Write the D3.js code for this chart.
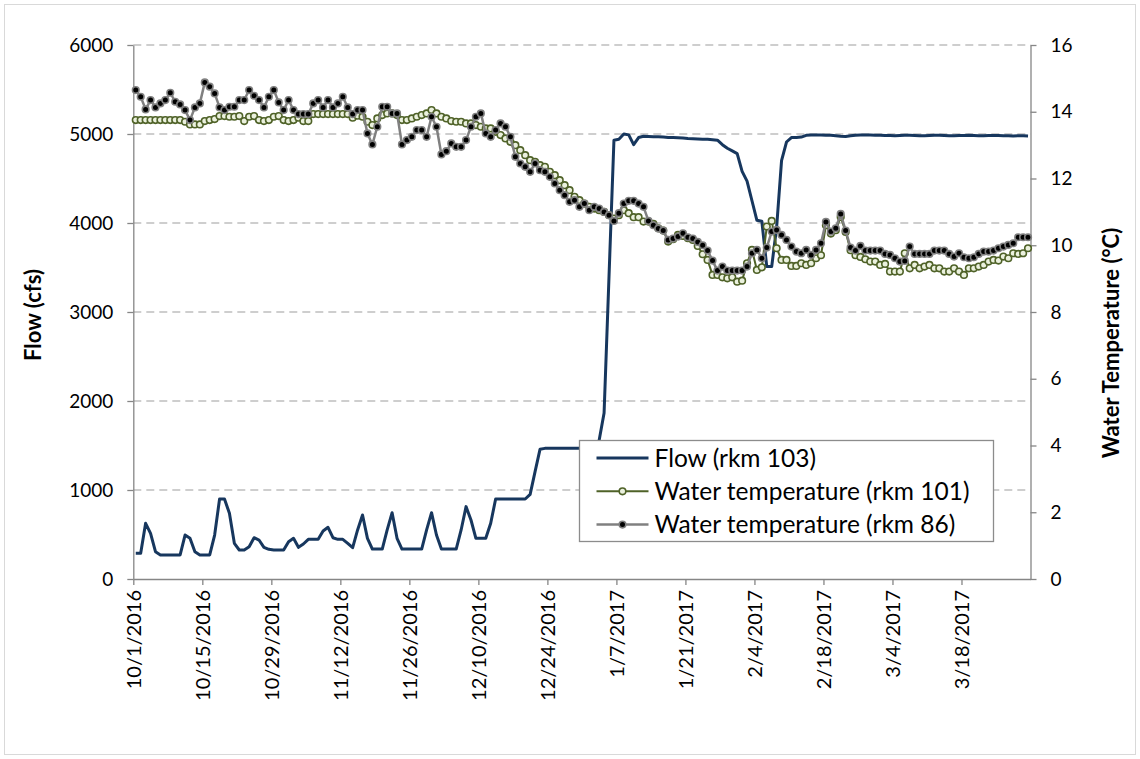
<!DOCTYPE html>
<html>
<head>
<meta charset="utf-8">
<script src="https://cdn.jsdelivr.net/npm/d3@7"></script>
<style>
  body { margin: 0; background: #fff; }
  svg { display: block; font-family: Lato, "Liberation Sans", sans-serif; }
</style>
</head>
<body>
<svg id="chart" width="1140" height="759"></svg>
<script>
// Daily series, one value per day starting 10/1/2016 (182 days through 3/31/2017)
const startDate = "10/1/2016";
const endDate = "4/1/2017";

const flowCfs = [
  289, 289, 626, 513, 307, 270, 270, 270, 270, 270,
  494, 457, 307, 270, 270, 270, 494, 899, 899, 738,
  401, 326, 326, 363, 464, 438, 356, 333, 326, 326,
  326, 419, 457, 356, 393, 446, 446, 446, 539, 581,
  464, 446, 446, 401, 352, 551, 719, 457, 337, 337,
  337, 551, 745, 457, 337, 337, 337, 337, 337, 551,
  745, 494, 337, 337, 337, 337, 551, 813, 663, 457,
  457, 457, 626, 899, 899, 899, 899, 899, 899, 899,
  951, 1206, 1457, 1468, 1468, 1468, 1468, 1468, 1468, 1468,
  1468, 1468, 1468, 1468, 1560, 1865, 3400, 4930, 4940, 5000,
  4990, 4880, 4960, 4975, 4972, 4970, 4968, 4965, 4962, 4960,
  4958, 4955, 4950, 4948, 4945, 4942, 4940, 4935, 4930, 4880,
  4840, 4810, 4780, 4580, 4470, 4250, 4030, 4020, 3510, 3510,
  3950, 4700, 4910, 4960, 4960, 4965, 4985, 4990, 4990, 4988,
  4985, 4985, 4980, 4975, 4972, 4980, 4985, 4988, 4990, 4988,
  4985, 4985, 4983, 4982, 4980, 4982, 4985, 4985, 4983, 4980,
  4980, 4982, 4985, 4985, 4983, 4980, 4980, 4982, 4983, 4985,
  4983, 4980, 4980, 4982, 4983, 4982, 4980, 4980, 4978, 4980,
  4980, 4978
];

const tempRkm101 = [
  13.75, 13.75, 13.75, 13.75, 13.75, 13.75, 13.75, 13.75, 13.75, 13.75,
  13.70, 13.62, 13.62, 13.62, 13.72, 13.75, 13.78, 13.87, 13.87, 13.85,
  13.85, 13.87, 13.72, 13.85, 13.87, 13.75, 13.72, 13.75, 13.85, 13.87,
  13.75, 13.72, 13.75, 13.82, 13.72, 13.72, 13.93, 13.93, 13.93, 13.93,
  13.93, 13.93, 13.93, 13.93, 13.82, 13.88, 13.85, 13.70, 13.60, 13.80,
  13.90, 13.95, 13.95, 13.90, 13.75, 13.75, 13.80, 13.85, 13.90, 13.95,
  14.05, 13.95, 13.85, 13.80, 13.72, 13.70, 13.70, 13.65, 13.65, 13.60,
  13.55, 13.50, 13.50, 13.40, 13.30, 13.20, 13.10, 13.00, 12.85, 12.70,
  12.55, 12.50, 12.40, 12.35, 12.20, 12.10, 11.95, 11.80, 11.65, 11.45,
  11.35, 11.25, 11.15, 11.10, 11.05, 11.00, 10.90, 10.80, 10.90, 11.05,
  10.96, 10.84, 10.84, 10.71, 10.71, 10.64, 10.51, 10.44, 10.11, 10.18,
  10.31, 10.28, 10.21, 10.16, 9.98, 9.73, 9.56, 9.11, 9.11, 9.04,
  9.01, 9.04, 8.91, 8.94, 9.46, 9.86, 9.26, 9.34, 10.56, 10.73,
  9.91, 9.56, 9.56, 9.38, 9.38, 9.46, 9.41, 9.46, 9.61, 9.70,
  10.60, 10.35, 10.45, 10.85, 10.40, 9.85, 9.70, 9.65, 9.58, 9.51,
  9.51, 9.41, 9.44, 9.21, 9.21, 9.21, 9.76, 9.31, 9.41, 9.31,
  9.36, 9.41, 9.31, 9.31, 9.21, 9.21, 9.31, 9.21, 9.11, 9.31,
  9.31, 9.36, 9.41, 9.51, 9.56, 9.54, 9.66, 9.61, 9.76, 9.74,
  9.76, 9.91
];

const tempRkm86 = [
  14.65, 14.45, 14.07, 14.35, 14.13, 14.25, 14.35, 14.57, 14.30, 14.22,
  14.05, 13.75, 14.13, 14.25, 14.88, 14.75, 14.55, 14.13, 14.05, 14.15,
  14.15, 14.35, 14.35, 14.65, 14.48, 14.35, 14.13, 14.45, 14.65, 14.28,
  14.05, 14.35, 14.05, 13.93, 13.93, 13.93, 14.25, 14.35, 14.13, 14.35,
  14.13, 14.25, 14.45, 14.13, 13.93, 14.05, 14.05, 13.35, 13.02, 13.55,
  14.15, 14.15, 13.95, 13.95, 13.02, 13.15, 13.25, 13.45, 13.45, 13.25,
  13.85, 13.55, 12.72, 12.82, 13.05, 12.95, 12.95, 13.15, 13.55, 13.85,
  13.95, 13.35, 13.25, 13.45, 13.65, 13.55, 13.25, 12.65, 12.45, 12.35,
  12.20, 12.45, 12.25, 12.20, 12.05, 11.85, 11.65, 11.50, 11.30, 11.35,
  11.15, 11.25, 11.05, 11.15, 11.10, 11.00, 10.90, 10.73, 10.96, 11.25,
  11.33, 11.33, 11.25, 11.15, 10.73, 10.60, 10.50, 10.44, 10.16, 10.20,
  10.26, 10.36, 10.24, 10.20, 10.10, 10.00, 9.84, 9.54, 9.24, 9.36,
  9.24, 9.24, 9.24, 9.24, 9.36, 9.76, 9.86, 9.61, 9.93, 10.41,
  10.46, 10.31, 10.16, 9.96, 9.81, 9.76, 9.86, 9.71, 9.86, 10.06,
  10.70, 10.41, 10.51, 10.94, 10.44, 9.93, 9.84, 9.98, 9.84, 9.84,
  9.84, 9.84, 9.74, 9.71, 9.61, 9.51, 9.53, 9.96, 9.74, 9.74,
  9.74, 9.74, 9.84, 9.84, 9.84, 9.74, 9.66, 9.76, 9.64, 9.61,
  9.64, 9.74, 9.81, 9.81, 9.84, 9.91, 9.96, 10.01, 10.06, 10.24,
  10.24, 10.24
];

const dateTickLabels = [
  "10/1/2016", "10/15/2016", "10/29/2016", "11/12/2016", "11/26/2016",
  "12/10/2016", "12/24/2016", "1/7/2017", "1/21/2017", "2/4/2017",
  "2/18/2017", "3/4/2017", "3/18/2017"
];
const flowTicks = [0, 1000, 2000, 3000, 4000, 5000, 6000];
const tempTicks = [0, 2, 4, 6, 8, 10, 12, 14, 16];
const seriesNames = ["Flow (rkm 103)", "Water temperature (rkm 101)", "Water temperature (rkm 86)"];

// ---- layout ----
const W = 1140, H = 759;
const plot = { left: 133.3, right: 1030.5, top: 45, bottom: 579 };
const axisColor = "#868686";
const gridColor = "#bfbfbf";
const flowColor = "#17375e";
const green = "#4f6228";
const greenFill = "#ebf1de";
const grey = "#808080";

const parseDate = d3.utcParse("%m/%d/%Y");
const formatDate = d => `${d.getUTCMonth() + 1}/${d.getUTCDate()}/${d.getUTCFullYear()}`;
const t0 = parseDate(startDate);
const dayOf = i => new Date(t0.getTime() + (i + 0.5) * 86400000); // points centred in each day slot

const x = d3.scaleUtc().domain([t0, parseDate(endDate)]).range([plot.left, plot.right]);
const yFlow = d3.scaleLinear().domain([0, 6000]).range([plot.bottom, plot.top]);
const yTemp = d3.scaleLinear().domain([0, 16]).range([plot.bottom, plot.top]);

const svg = d3.select("#chart");

// chart area frame
svg.append("rect")
  .attr("x", 4.5).attr("y", 4.5).attr("width", W - 9).attr("height", H - 9)
  .attr("fill", "#fff").attr("stroke", "#d9d9d9").attr("stroke-width", 1);

// horizontal dashed gridlines
svg.append("g").selectAll("line")
  .data(flowTicks.filter(v => v > 0))
  .join("line")
  .attr("x1", plot.left).attr("x2", plot.right)
  .attr("y1", d => yFlow(d)).attr("y2", d => yFlow(d))
  .attr("stroke", gridColor).attr("stroke-width", 1.3)
  .attr("stroke-dasharray", "8,5");

// axes
function styleAxis(g, size) {
  g.selectAll(".domain").attr("stroke", axisColor).attr("stroke-width", 1.3);
  g.selectAll(".tick line").attr("stroke", axisColor).attr("stroke-width", 1.3);
  g.selectAll(".tick text").attr("fill", "#000").style("font-size", size + "px")
    .style("font-family", "Lato, 'Liberation Sans', sans-serif");
}

const gLeft = svg.append("g")
  .attr("transform", `translate(${plot.left},0)`)
  .call(d3.axisLeft(yFlow).tickValues(flowTicks).tickSize(6).tickPadding(14).tickFormat(d3.format("d")).tickSizeOuter(0));
styleAxis(gLeft, 19);

const gRight = svg.append("g")
  .attr("transform", `translate(${plot.right},0)`)
  .call(d3.axisRight(yTemp).tickValues(tempTicks).tickSize(6).tickPadding(14).tickFormat(d3.format("d")).tickSizeOuter(0));
styleAxis(gRight, 19);

const gBottom = svg.append("g")
  .attr("transform", `translate(0,${plot.bottom})`)
  .call(d3.axisBottom(x).tickValues(dateTickLabels.map(parseDate)).tickSize(6).tickFormat(formatDate).tickSizeOuter(0));
styleAxis(gBottom, 20);
gBottom.selectAll(".tick text")
  .attr("transform", "rotate(-90)")
  .attr("text-anchor", "end")
  .attr("x", -11).attr("y", 0).attr("dy", "0.35em");

// axis titles
svg.append("text")
  .attr("transform", `translate(41,315) rotate(-90)`)
  .attr("text-anchor", "middle")
  .style("font-size", "22px").style("font-weight", "bold")
  .text("Flow (cfs)");

svg.append("text")
  .attr("transform", `translate(1119,343) rotate(-90)`)
  .attr("text-anchor", "middle")
  .style("font-size", "22px").style("font-weight", "bold")
  .text("Water Temperature (°C)");

// ---- series ----
const flowLine = d3.line().x((d, i) => x(dayOf(i))).y(d => yFlow(d));
const tempLine = d3.line().x((d, i) => x(dayOf(i))).y(d => yTemp(d));

svg.append("path")
  .attr("d", flowLine(flowCfs))
  .attr("fill", "none").attr("stroke", flowColor).attr("stroke-width", 3)
  .attr("stroke-linejoin", "round");

svg.append("path")
  .attr("d", tempLine(tempRkm101))
  .attr("fill", "none").attr("stroke", green).attr("stroke-width", 2)
  .attr("stroke-linejoin", "round");
svg.append("g").selectAll("circle")
  .data(tempRkm101)
  .join("circle")
  .attr("cx", (d, i) => x(dayOf(i))).attr("cy", d => yTemp(d))
  .attr("r", 3.3)
  .attr("fill", greenFill).attr("stroke", green).attr("stroke-width", 1.6);

svg.append("path")
  .attr("d", tempLine(tempRkm86))
  .attr("fill", "none").attr("stroke", grey).attr("stroke-width", 2.5)
  .attr("stroke-linejoin", "round");
svg.append("g").selectAll("circle")
  .data(tempRkm86)
  .join("circle")
  .attr("cx", (d, i) => x(dayOf(i))).attr("cy", d => yTemp(d))
  .attr("r", 3.3)
  .attr("fill", "#000").attr("stroke", grey).attr("stroke-width", 1.6);

// ---- legend ----
const legend = svg.append("g").attr("transform", "translate(579.5,440.5)");
legend.append("rect")
  .attr("width", 414).attr("height", 101)
  .attr("fill", "#fff").attr("stroke", "#8c8c8c").attr("stroke-width", 1.3);

const legendRows = [
  { name: seriesNames[0], stroke: flowColor, width: 3, marker: null },
  { name: seriesNames[1], stroke: green, width: 2, marker: { fill: greenFill, stroke: green } },
  { name: seriesNames[2], stroke: grey, width: 2.5, marker: { fill: "#000", stroke: grey } }
];
legendRows.forEach((row, i) => {
  const ry = 17.5 + i * 33.3;
  legend.append("line")
    .attr("x1", 17).attr("x2", 69).attr("y1", ry).attr("y2", ry)
    .attr("stroke", row.stroke).attr("stroke-width", row.width);
  if (row.marker) {
    legend.append("circle")
      .attr("cx", 43).attr("cy", ry).attr("r", 3.3)
      .attr("fill", row.marker.fill).attr("stroke", row.marker.stroke).attr("stroke-width", 1.6);
  }
  legend.append("text")
    .attr("x", 75).attr("y", ry).attr("dy", "0.36em")
    .style("font-size", "24.5px")
    .text(row.name);
});
</script>
</body>
</html>
